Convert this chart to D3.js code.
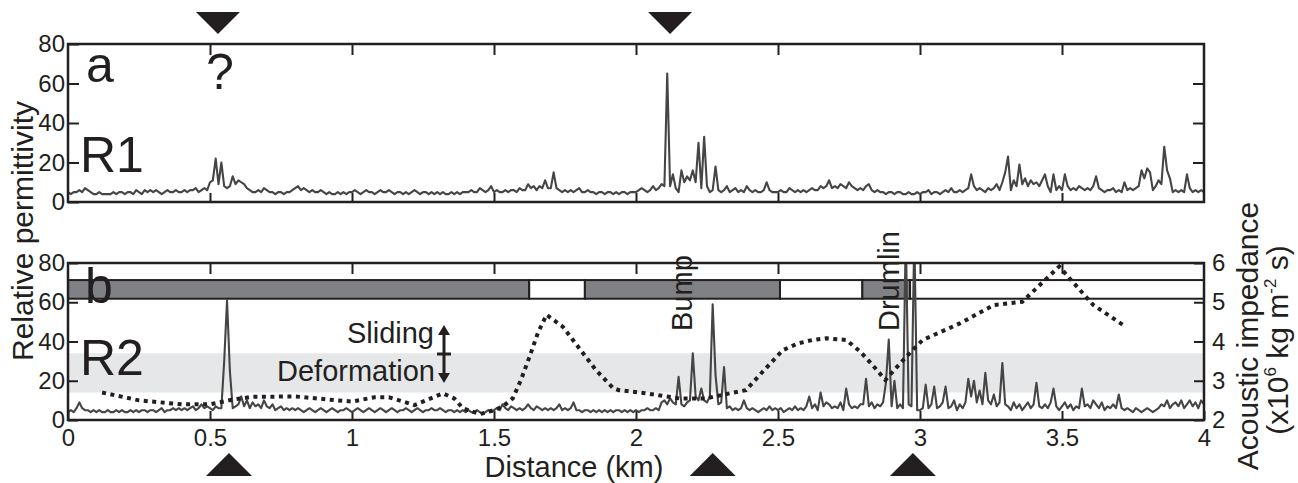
<!DOCTYPE html>
<html>
<head>
<meta charset="utf-8">
<script src="https://cdn.jsdelivr.net/npm/d3@7"></script>
<style>
  html, body { margin: 0; padding: 0; background: #fff; }
  svg text { font-family: "Liberation Sans", Arial, Helvetica, sans-serif; fill: #231f20; }
</style>
</head>
<body>
<svg id="chart" width="1298" height="483"></svg>
<script>
/******************** data ********************/
// radar traces, one sample every 0.01 km from 0 to 4 km
var sampleStep = 0.01;

var r1Permittivity = [
  5,4,5,5,6,5,7,6,5,4,   4,5,4,4,4,4,5,4,5,5,
  4,5,5,4,6,5,4,6,5,6,   5,6,5,4,5,6,5,5,6,5,
  5,6,5,6,6,7,5,6,7,6,   10,11,22,9,20,8,7,8,13,9,
  11,10,9,7,6,5,5,6,5,7, 6,5,5,4,5,5,4,5,5,6,
  7,8,6,7,6,5,6,5,5,6,   5,4,5,4,4,5,4,5,4,5,
  5,6,5,4,5,6,5,5,4,5,   6,5,5,6,5,4,5,5,4,5,
  4,5,6,5,4,5,5,4,5,4,   5,4,5,4,4,5,4,5,4,5,
  5,5,6,5,5,7,6,5,6,8,   5,6,5,5,6,5,6,6,5,7,
  6,6,9,7,8,6,8,7,11,7,  7,15,7,6,5,6,5,6,5,6,
  7,5,5,6,5,5,4,5,5,4,   5,5,4,5,4,5,5,4,5,5,
  5,6,7,6,5,6,8,6,7,9,   8,65,8,14,7,5,16,10,13,11,
  16,10,30,7,33,8,5,6,18,6, 5,6,8,5,6,7,5,6,5,8,
  6,5,6,5,5,6,10,6,5,5,  5,6,5,5,7,6,5,6,5,6,
  5,6,7,6,6,8,7,8,11,7,  8,7,9,8,7,10,8,7,6,7,
  6,8,9,6,5,6,5,5,4,5,   5,4,5,5,4,4,5,4,4,5,
  4,5,5,6,4,5,5,4,5,6,   5,7,5,5,6,5,6,7,14,8,
  6,7,6,5,7,6,7,9,6,10,  15,23,6,11,8,19,9,12,8,11,
  9,10,8,11,14,8,5,14,6,8, 6,14,8,6,7,6,8,7,6,7,
  6,8,13,7,6,5,6,6,7,5,  6,5,10,6,7,6,7,8,16,12,
  17,15,6,8,11,9,28,16,12,5, 6,5,6,5,14,7,5,6,5,6,
  5
];

var r2Permittivity = [
  4,5,4,6,9,6,5,5,4,5,   4,5,4,4,5,4,4,5,4,5,
  4,4,5,4,5,4,5,5,4,5,   5,4,5,6,4,5,5,6,5,6,
  5,6,5,6,7,5,6,8,6,7,   6,5,7,6,6,30,61,25,6,7,
  8,12,7,10,6,9,7,8,6,10, 7,6,8,5,6,7,5,6,5,6,
  5,6,5,4,5,6,5,4,5,6,   5,4,5,6,5,4,5,5,6,5,
  4,5,6,5,4,5,6,5,4,5,   6,5,4,5,6,5,4,5,5,6,
  5,4,5,6,5,4,5,5,6,5,   5,6,5,4,5,5,4,5,4,5,
  4,5,4,4,5,4,3,4,5,4,   5,6,5,8,6,5,7,6,5,6,
  5,6,8,6,5,7,6,5,6,5,   6,5,6,8,5,6,5,6,9,5,
  5,4,5,5,4,5,4,5,4,5,   4,5,4,5,5,4,5,4,5,4,
  5,4,5,5,6,5,5,6,5,9,   10,8,11,9,8,22,8,7,9,10,
  34,12,10,16,10,9,12,59,23,8, 9,27,6,7,5,6,5,6,10,6,
  5,6,5,4,5,6,5,7,5,6,   5,6,4,5,6,5,7,5,6,5,
  7,12,6,8,5,14,7,9,8,6, 7,6,9,5,16,8,6,7,6,8,
  8,21,7,9,6,8,7,9,19,41, 7,20,6,8,6,95,8,7,95,5,
  5,6,18,6,8,17,6,7,9,17, 6,7,10,5,8,6,9,21,12,20,
  9,15,8,24,10,8,13,7,9,29, 8,7,5,9,6,8,5,7,9,6,
  8,19,7,6,8,6,9,16,7,5, 7,9,6,8,5,7,6,16,7,8,
  6,10,8,6,9,5,7,6,8,6,  13,6,5,6,5,4,6,5,4,5,
  6,5,4,5,6,8,7,10,6,8,  9,7,10,6,8,10,7,9,6,10,
  8
];

// seismic acoustic impedance (x10^6 kg m^-2 s), dotted line
var impedanceKm = [0.12,0.25,0.40,0.50,0.58,0.65,0.80,0.95,1.00,1.08,1.13,1.22,1.32,1.36,1.39,1.45,1.50,1.53,
  1.566,1.595,1.625,1.654,1.685,1.742,1.80,1.859,1.92,1.94,2.035,2.153,2.246,2.33,2.387,2.446,2.517,2.57,
  2.622,2.67,2.74,2.79,2.833,2.878,2.915,2.968,3.01,3.14,3.26,3.36,3.49,3.61,3.715];
var impedanceVal = [2.70,2.50,2.40,2.40,2.52,2.59,2.60,2.50,2.47,2.58,2.58,2.38,2.68,2.55,2.30,2.15,2.25,2.34,
  2.55,3.02,3.61,4.21,4.68,4.38,3.83,3.27,2.81,2.76,2.68,2.55,2.55,2.68,2.76,3.23,3.78,3.95,
  4.04,4.08,4.04,3.74,3.40,3.02,3.32,3.74,4.04,4.46,4.93,5.01,5.91,4.93,4.42];

// sliding / deformation interpretation strip
var zoneBreaks = [0, 1.624, 1.82, 2.507, 2.797, 2.965, 4];
var zoneShaded = [true, false, true, false, true, false];
var transitionBand = [2.7, 3.7];   // impedance units

// crossing markers (km)
var topMarkers = [0.528, 2.12];
var bottomMarkers = [0.567, 2.27, 2.975];

var distTicks = [0, 0.5, 1, 1.5, 2, 2.5, 3, 3.5, 4];
var permTicks = [0, 20, 40, 60, 80];
var impTicks = [2, 3, 4, 5, 6];

/******************** layout ********************/
var ink = "#231f20";
var traceColor = "#454545";
var svg = d3.select("#chart");

var x = d3.scaleLinear().domain([0, 4]).range([68, 1204]);
var yTop = d3.scaleLinear().domain([0, 80]).range([202, 44]);
var yBot = d3.scaleLinear().domain([0, 80]).range([420, 263]);
var yImp = d3.scaleLinear().domain([2, 6]).range([420, 263]);

var defs = svg.append("defs");
defs.append("clipPath").attr("id", "clipTop").append("rect")
  .attr("x", 68).attr("y", 44).attr("width", 1136).attr("height", 158);
defs.append("clipPath").attr("id", "clipBot").append("rect")
  .attr("x", 68).attr("y", 263).attr("width", 1136).attr("height", 157);

function tidy(g) {
  g.select(".domain").remove();
  g.selectAll(".tick line").attr("stroke", ink).attr("stroke-width", 2);
  g.selectAll(".tick text").attr("font-size", 24).attr("fill", ink)
    .style("font-family", '"Liberation Sans", Arial, Helvetica, sans-serif');
}
var inner = distTicks.slice(1, -1);
var fmt = function(d) { return String(d); };

/******************** panel a ********************/
var panelA = svg.append("g");
panelA.append("g").attr("transform", "translate(0,44)")
  .call(d3.axisTop(x).tickValues(inner).tickSize(-11).tickFormat("")).call(tidy);
panelA.append("g").attr("transform", "translate(0,202)")
  .call(d3.axisBottom(x).tickValues(inner).tickSize(-9).tickFormat("")).call(tidy);
panelA.append("g").attr("transform", "translate(68,0)")
  .call(d3.axisLeft(yTop).tickValues(permTicks).tickSize(-11).tickPadding(3).tickFormat(fmt)).call(tidy);
panelA.append("g").attr("transform", "translate(1204,0)")
  .call(d3.axisRight(yTop).tickValues([20, 40, 60]).tickSize(-11).tickFormat("")).call(tidy);

var lineTop = d3.line()
  .x(function(d, i) { return x(i * sampleStep); })
  .y(function(d) { return yTop(d); });
panelA.append("path").datum(r1Permittivity)
  .attr("clip-path", "url(#clipTop)")
  .attr("d", lineTop).attr("fill", "none")
  .attr("stroke", traceColor).attr("stroke-width", 2.1).attr("stroke-linejoin", "round");

panelA.append("rect").attr("x", 68).attr("y", 44).attr("width", 1136).attr("height", 158)
  .attr("fill", "none").attr("stroke", ink).attr("stroke-width", 2.5);

panelA.selectAll(".mk").data(topMarkers).enter().append("path")
  .attr("d", function(d) {
    var c = x(d);
    return "M" + (c - 22) + ",12L" + (c + 22) + ",12L" + c + ",34Z";
  }).attr("fill", ink);

panelA.append("text").attr("x", 86).attr("y", 82).attr("font-size", 50).text("a");
panelA.append("text").attr("x", 80).attr("y", 172).attr("font-size", 50).text("R1");
panelA.append("text").attr("x", 220).attr("y", 89).attr("font-size", 50)
  .attr("text-anchor", "middle").text("?");

/******************** panel b ********************/
var panelB = svg.append("g");

panelB.append("rect")
  .attr("x", 68).attr("width", 1136)
  .attr("y", yImp(transitionBand[1]))
  .attr("height", yImp(transitionBand[0]) - yImp(transitionBand[1]))
  .attr("fill", "#e6e7e8");

// interpretation strip
var zones = zoneShaded.map(function(s, i) { return { a: zoneBreaks[i], b: zoneBreaks[i + 1], s: s }; });
panelB.selectAll(".zone").data(zones).enter().append("rect")
  .attr("x", function(d) { return x(d.a); })
  .attr("width", function(d) { return x(d.b) - x(d.a); })
  .attr("y", yBot(71.3)).attr("height", yBot(61.8) - yBot(71.3))
  .attr("fill", function(d) { return d.s ? "#808184" : "#fff"; })
  .attr("stroke", ink).attr("stroke-width", 2);

panelB.append("g").attr("transform", "translate(0,263)")
  .call(d3.axisTop(x).tickValues(inner).tickSize(-11).tickFormat("")).call(tidy);
panelB.append("g").attr("transform", "translate(0,420)")
  .call(d3.axisBottom(x).tickValues(distTicks).tickSize(-9).tickPadding(9).tickFormat(fmt)).call(tidy);
panelB.append("g").attr("transform", "translate(68,0)")
  .call(d3.axisLeft(yBot).tickValues(permTicks).tickSize(-10).tickPadding(3).tickFormat(fmt)).call(tidy);
panelB.append("g").attr("transform", "translate(1204,0)")
  .call(d3.axisRight(yImp).tickValues(impTicks).tickSize(-10).tickPadding(8).tickFormat(fmt)).call(tidy);

var lineBot = d3.line()
  .x(function(d, i) { return x(i * sampleStep); })
  .y(function(d) { return yBot(d); });
panelB.append("path").datum(r2Permittivity)
  .attr("clip-path", "url(#clipBot)")
  .attr("d", lineBot).attr("fill", "none")
  .attr("stroke", traceColor).attr("stroke-width", 2.1).attr("stroke-linejoin", "round");

var lineImp = d3.line()
  .x(function(d) { return x(d); })
  .y(function(d, i) { return yImp(impedanceVal[i]); });
panelB.append("path").datum(impedanceKm)
  .attr("d", lineImp).attr("fill", "none")
  .attr("stroke", ink).attr("stroke-width", 4).attr("stroke-dasharray", "4,4.5");

panelB.append("rect").attr("x", 68).attr("y", 263).attr("width", 1136).attr("height", 157)
  .attr("fill", "none").attr("stroke", ink).attr("stroke-width", 2.5);

panelB.selectAll(".mk").data(bottomMarkers).enter().append("path")
  .attr("d", function(d) {
    var c = x(d);
    return "M" + (c - 23) + ",476L" + (c + 23) + ",476L" + c + ",453Z";
  }).attr("fill", ink);

panelB.append("text").attr("x", 85).attr("y", 303).attr("font-size", 50).text("b");
panelB.append("text").attr("x", 80).attr("y", 375).attr("font-size", 50).text("R2");
panelB.append("text").attr("x", 434).attr("y", 343).attr("font-size", 29)
  .attr("text-anchor", "end").text("Sliding");
panelB.append("text").attr("x", 435).attr("y", 381).attr("font-size", 29)
  .attr("text-anchor", "end").text("Deformation");

// double arrow
panelB.append("line").attr("x1", 444).attr("x2", 444).attr("y1", 332).attr("y2", 376)
  .attr("stroke", ink).attr("stroke-width", 3);
panelB.append("line").attr("x1", 437).attr("x2", 451).attr("y1", 354).attr("y2", 354)
  .attr("stroke", ink).attr("stroke-width", 3);
panelB.append("path").attr("d", "M438,335L450,335L444,325Z").attr("fill", ink);
panelB.append("path").attr("d", "M438,373L450,373L444,383Z").attr("fill", ink);

panelB.append("text").attr("transform", "translate(692,331) rotate(-90)")
  .attr("font-size", 29).text("Bump");
panelB.append("text").attr("transform", "translate(899,331) rotate(-90)")
  .attr("font-size", 29).text("Drumlin");

/******************** axis titles ********************/
svg.append("text").attr("transform", "translate(33,231) rotate(-90)")
  .attr("font-size", 30).attr("text-anchor", "middle").text("Relative permittivity");
svg.append("text").attr("x", 574).attr("y", 477)
  .attr("font-size", 29).attr("text-anchor", "middle").text("Distance (km)");
svg.append("text").attr("transform", "translate(1258,336) rotate(-90)")
  .attr("font-size", 30).attr("text-anchor", "middle").text("Acoustic impedance");

var unit = svg.append("text").attr("transform", "translate(1288,340) rotate(-90)")
  .attr("font-size", 30).attr("text-anchor", "middle");
unit.append("tspan").text("(x10");
unit.append("tspan").attr("font-size", 17).attr("dy", -12).text("6");
unit.append("tspan").attr("dy", 12).text(" kg m");
unit.append("tspan").attr("font-size", 17).attr("dy", -12).text("-2");
unit.append("tspan").attr("dy", 12).text(" s)");
</script>
</body>
</html>
